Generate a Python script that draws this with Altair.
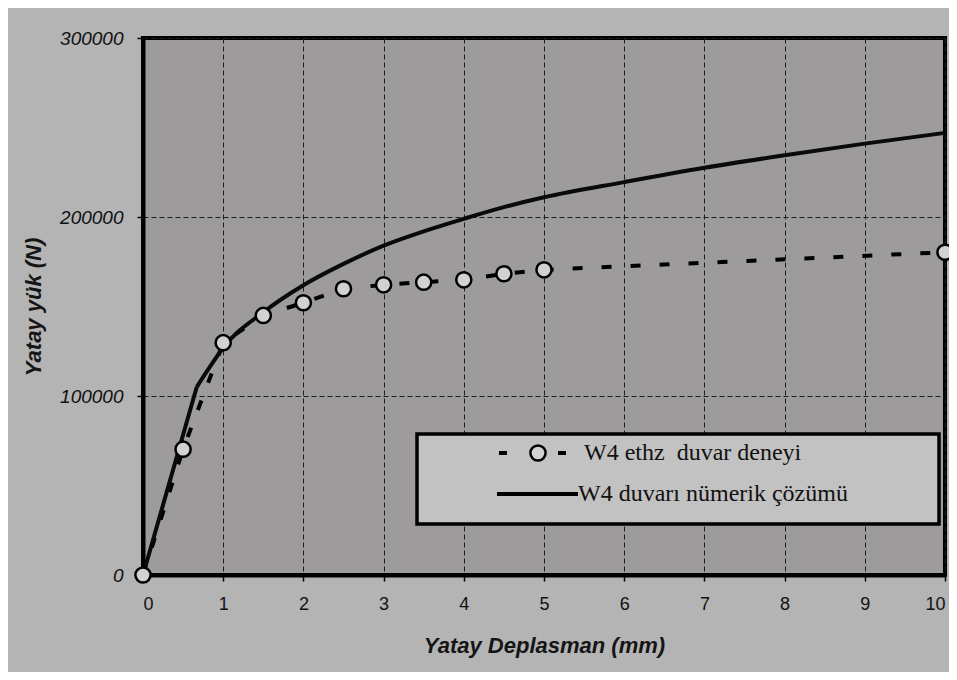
import altair as alt
import pandas as pd

# Experimental (W4 ethz duvar deneyi)
exp_x = [0, 0.5, 1, 1.5, 2, 2.5, 3, 3.5, 4, 4.5, 5, 10]
exp_y = [0, 70300, 129800, 145000, 152100, 159900, 162100, 163600, 164900, 168300, 170500, 180300]

# Numerical solution (W4 duvarı nümerik çözümü)
num_x = [0, 0.67, 0.8, 1, 1.5, 2, 2.5, 3, 3.5, 4, 4.5, 5, 6, 7, 8, 9, 10]
num_y = [0, 105000, 114000, 127000, 146800, 161900, 173800, 184000, 192000, 199000, 205500, 211000, 219500, 227500, 234500, 241000, 247000]
num_kink = 0.67  # end of the linear-elastic branch

x_ticks = [0, 1, 2, 3, 4, 5, 6, 7, 8, 9, 10]
y_ticks = [0, 100000, 200000, 300000]

legend_labels = ["W4 ethz\u00a0 duvar deneyi", "W4 duvarı nümerik çözümü"]

exp_df = pd.DataFrame({"x": exp_x, "y": exp_y})
num_df = pd.DataFrame({"x": num_x, "y": num_y})

W, H = 802, 537

xs = alt.Scale(domain=[0, 10], nice=False, zero=False)
ys = alt.Scale(domain=[0, 300000], nice=False)

x_axis = alt.Axis(
    values=x_ticks, format="d", title="Yatay Deplasman (mm)",
    labelFont="Liberation Sans", labelFontSize=18, labelColor="#111111",
    labelPadding=14, tickSize=6, tickColor="black", tickWidth=1.5,
    domainColor="black", domainWidth=4,
    grid=True, gridColor="#1e1e1e", gridDash=[5, 3], gridWidth=1,
    titleFont="Liberation Sans", titleFontSize=22, titleFontWeight="bold",
    titleFontStyle="italic", titleColor="#151515",
    titleX=W / 2, titleY=70, titleAlign="center", titleBaseline="middle",
)
y_axis = alt.Axis(
    values=y_ticks, format="d", title="Yatay yük (N)",
    labelFont="Liberation Sans", labelFontSize=19, labelFontStyle="italic",
    labelColor="#111111", labelPadding=14, tickSize=6, tickColor="black",
    tickWidth=1.5, domainColor="black", domainWidth=4,
    grid=True, gridColor="#1e1e1e", gridDash=[5, 3], gridWidth=1,
    titleFont="Liberation Sans", titleFontSize=22, titleFontWeight="bold",
    titleFontStyle="italic", titleColor="#151515",
    titleX=-110, titleY=H / 2, titleAngle=270, titleAlign="center",
    titleBaseline="middle",
)

base_exp = alt.Chart(exp_df)
base_num = alt.Chart(num_df)

exp_line = base_exp.mark_line(
    color="black", strokeWidth=4, strokeDash=[10, 19], strokeCap="butt"
).encode(x=alt.X("x:Q", scale=xs, axis=x_axis), y=alt.Y("y:Q", scale=ys, axis=y_axis))

num_line_lin = base_num.transform_filter(alt.datum.x <= num_kink).mark_line(
    color="#0a0a0a", strokeWidth=4
).encode(x=alt.X("x:Q", scale=xs), y=alt.Y("y:Q", scale=ys))

num_line_curve = base_num.transform_filter(alt.datum.x >= num_kink).mark_line(
    color="#0a0a0a", strokeWidth=4, interpolate="monotone"
).encode(x=alt.X("x:Q", scale=xs), y=alt.Y("y:Q", scale=ys))

exp_pts = base_exp.mark_circle(
    size=230, color="#d2d2d2", opacity=1, stroke="black", strokeWidth=2.5
).encode(x=alt.X("x:Q", scale=xs), y=alt.Y("y:Q", scale=ys))

# Legend (drawn box with sample symbols)
one = pd.DataFrame({"a": [0]})
leg_box = alt.Chart(one).mark_rect(
    fill="#c2c2c2", stroke="black", strokeWidth=3.5
).encode(x=alt.value(274), x2=alt.value(796), y=alt.value(396), y2=alt.value(486))
leg_dash1 = alt.Chart(one).mark_rule(color="black", strokeWidth=4).encode(
    x=alt.value(356), x2=alt.value(364), y=alt.value(415))
leg_dash2 = alt.Chart(one).mark_rule(color="black", strokeWidth=4).encode(
    x=alt.value(415), x2=alt.value(423), y=alt.value(415))
leg_circ = alt.Chart(one).mark_circle(
    size=230, color="#d2d2d2", opacity=1, stroke="black", strokeWidth=2.5
).encode(x=alt.value(395), y=alt.value(415))
leg_line = alt.Chart(one).mark_rule(color="black", strokeWidth=4).encode(
    x=alt.value(354), x2=alt.value(435), y=alt.value(456))
leg_txt1 = alt.Chart(pd.DataFrame({"label": [legend_labels[0]]})).mark_text(
    font="Liberation Serif", fontSize=24, color="#111111", align="left", baseline="middle"
).encode(x=alt.value(441), y=alt.value(415), text="label:N")
leg_txt2 = alt.Chart(pd.DataFrame({"label": [legend_labels[1]]})).mark_text(
    font="Liberation Serif", fontSize=24, color="#111111", align="left", baseline="middle"
).encode(x=alt.value(435), y=alt.value(456), text="label:N")

chart = alt.layer(
    exp_line, num_line_lin, num_line_curve, exp_pts,
    leg_box, leg_dash1, leg_dash2, leg_circ, leg_line, leg_txt1, leg_txt2,
).properties(
    width=W, height=H,
    autosize=alt.AutoSizeParams(type="none"),
    padding={"left": 135, "top": 30, "right": 4, "bottom": 97},
    background="#b4b4b4",
).configure_view(
    fill="#9e9b9c", stroke="black", strokeWidth=4
)

chart.save("out.html", embed_options={"renderer": "svg", "actions": False})
